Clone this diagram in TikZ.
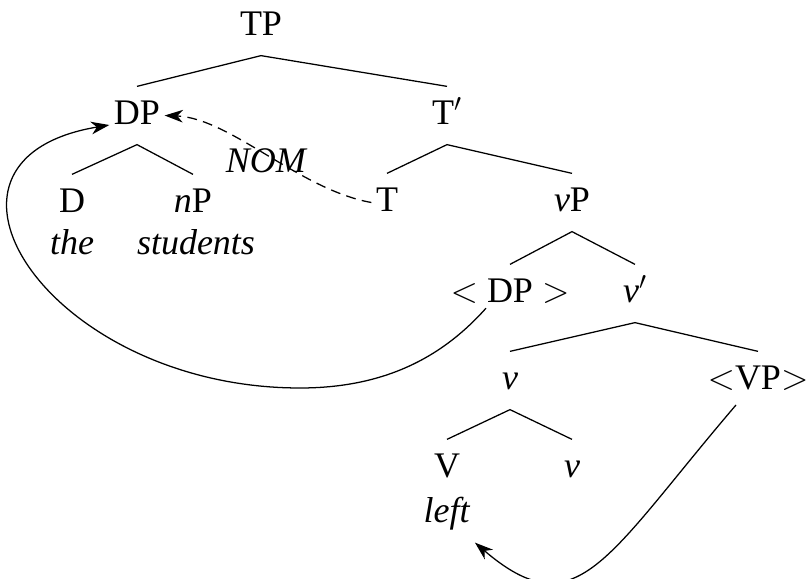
\documentclass[tikz,border=0pt]{standalone}
\usepackage{fix-cm}
\usepackage{fontspec}
\setmainfont{Liberation Serif}
\usepackage{tikz}
\usetikzlibrary{arrows.meta}

\begin{document}
\begin{tikzpicture}[line width=0.9pt,
	lbl/.style={anchor=base, inner xsep=0.1cm, inner ysep=0.1cm, text height=0.85cm, text depth=0.375cm, font=\fontsize{25.6}{30}\selectfont},
	mv/.style={-{Stealth[length=13pt,width=9pt,inset=4pt]}}]
	\useasboundingbox (0,0) rectangle (20.2,-14.475);

	\node[lbl] (tp) at (6.525,-0.9) {TP};
	\node[lbl] (dp) at (3.425,-3.125) {DP};
	\node[lbl] (tbar) at (11.175,-3.125) {T$'$};
	\node[lbl] (d) at (1.8,-5.325) {D};
	\node[lbl] (np) at (4.825,-5.325) {\textit{n}P};
	\node[lbl] (the) at (1.8,-6.375) {\textit{the}};
	\node[lbl] (stud) at (4.9,-6.375) {\textit{students}};
	\node[lbl] (t) at (9.675,-5.3) {T};
	\node[lbl] (vp) at (14.3,-5.3) {\textit{v}P};
	\node[lbl] (dpt) at (12.75,-7.575) {$<$ DP $>$};
	\node[lbl] (vbar) at (15.875,-7.575) {\textit{v}$'$};
	\node[lbl] (v) at (12.75,-9.75) {\textit{v}};
	\node[lbl] (vpt) at (18.95,-9.75) {$<$VP$>$};
	\node[lbl] (verb) at (11.175,-11.95) {V};
	\node[lbl] (v2) at (14.3,-11.95) {\textit{v}};
	\node[lbl] (left) at (11.175,-13.075) {\textit{left}};

	\draw (dp.north) -- (tp.south) -- (tbar.north);
	\draw (d.north) -- (dp.south) -- (np.north);
	\draw (t.north) -- (tbar.south) -- (vp.north);
	\draw (dpt.north) -- (vp.south) -- (vbar.north);
	\draw (v.north) -- (vbar.south) -- (vpt.north);
	\draw (verb.north) -- (v.south) -- (v2.north);

	% case checking
	\draw[mv, dashed, dash pattern=on 7pt off 4.5pt] (t.west) .. controls (7.5,-4.75) and (5.75,-2.95) .. node[pos=0.5, anchor=base, inner sep=0pt, yshift=-0.43cm, font=\fontsize{25.6}{30}\selectfont\itshape] (nom) {NOM} (dp.east);

	% movement
	\draw[mv] ([xshift=-0.6cm,yshift=-0.13cm]dpt.base) .. controls (11.15,-8.825) and (9.75,-9.7) .. (7.5,-9.7)
		.. controls (1.25,-9.7) and (-2.5,-4.0) .. (dp.base west);
	\draw[mv] ([xshift=-0.55cm,yshift=-0.375cm]vpt.base) .. controls (15.15,-13.925) and (14.425,-15.75) .. (left.south east);
\end{tikzpicture}
\end{document}
